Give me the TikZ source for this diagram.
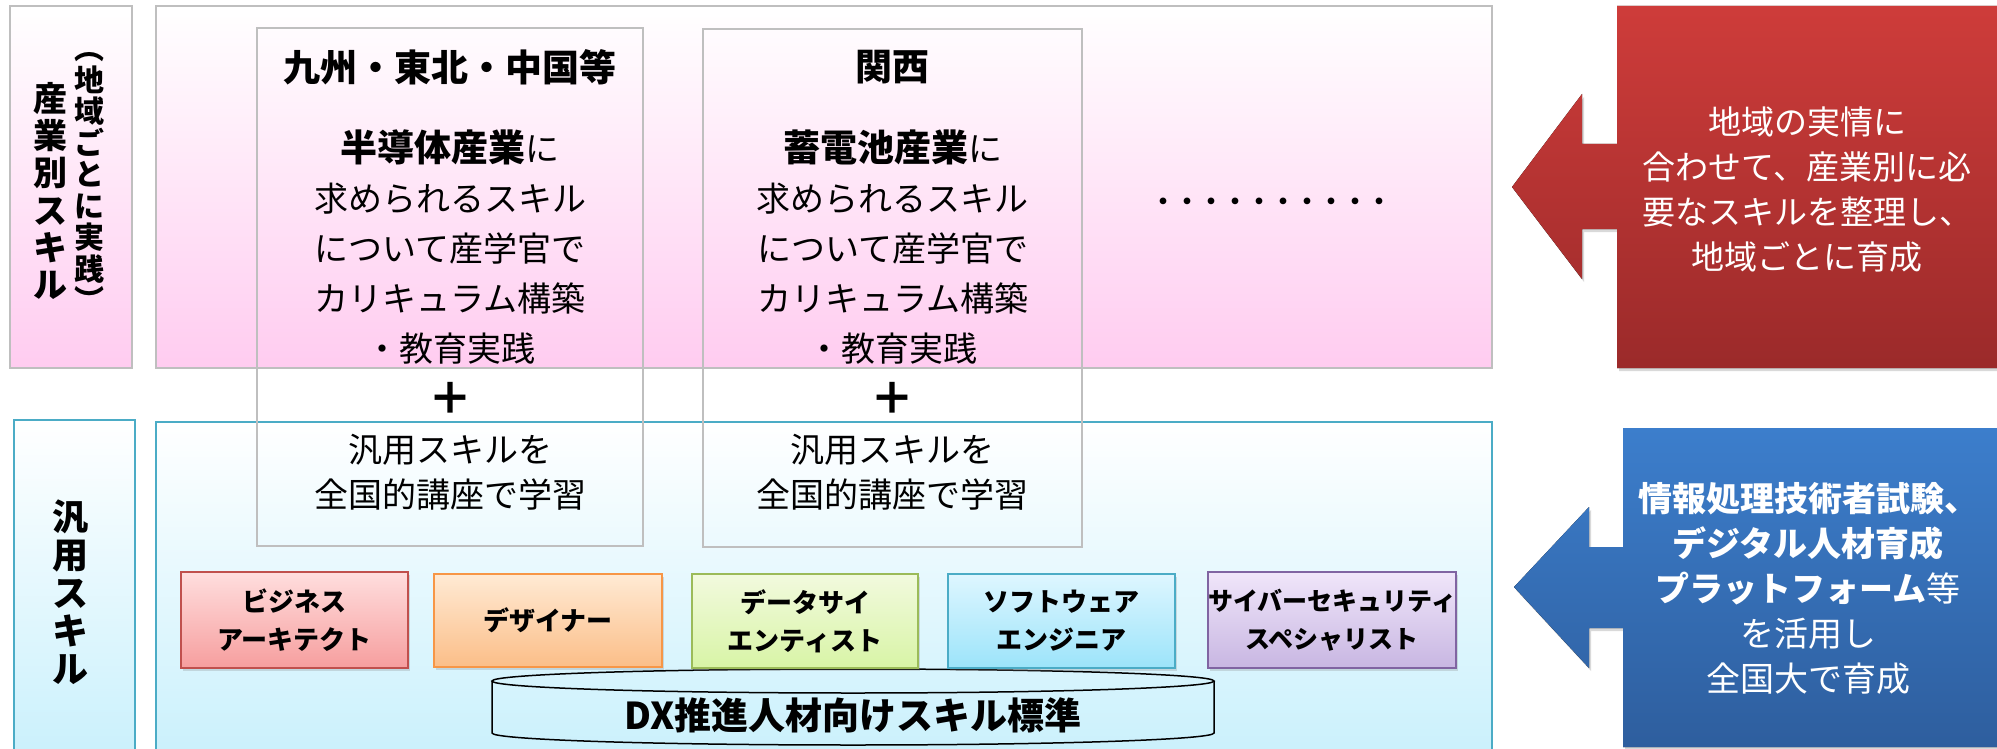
\documentclass[tikz,border=0pt]{standalone}
\usepackage{fontspec}
\setmainfont{Noto Sans CJK JP}
\usetikzlibrary{shadows}
\definecolor{pinkbot}{RGB}{255,204,240}
\definecolor{bluebot}{RGB}{200,240,252}
\definecolor{grayline}{RGB}{191,191,191}
\definecolor{tealline}{RGB}{75,172,198}
\definecolor{redtop}{RGB}{206,60,58}
\definecolor{redbot}{RGB}{155,42,42}
\definecolor{bluetop}{RGB}{60,126,204}
\definecolor{bluebtm}{RGB}{46,94,158}
\definecolor{s1top}{RGB}{255,222,222}
\definecolor{s1bot}{RGB}{246,158,158}
\definecolor{s1line}{RGB}{192,80,77}
\definecolor{s2top}{RGB}{255,234,212}
\definecolor{s2bot}{RGB}{251,190,136}
\definecolor{s2line}{RGB}{247,150,70}
\definecolor{s3top}{RGB}{242,250,222}
\definecolor{s3bot}{RGB}{216,244,166}
\definecolor{s3line}{RGB}{155,187,89}
\definecolor{s4top}{RGB}{222,246,255}
\definecolor{s4bot}{RGB}{156,228,250}
\definecolor{s4line}{RGB}{75,172,198}
\definecolor{s5top}{RGB}{240,230,250}
\definecolor{s5bot}{RGB}{200,182,226}
\definecolor{s5line}{RGB}{128,100,162}
\newcommand\fsz[2]{\fontsize{#1}{#2}\selectfont}
\tikzset{
  panelpink/.style={draw=grayline, line width=1.5pt, top color=white, bottom color=pinkbot},
  panelblue/.style={draw=tealline, line width=1.5pt, top color=white, bottom color=bluebot},
  regionbox/.style={draw=grayline, line width=1.5pt},
  txt/.style={inner sep=0pt, align=center},
  skillbox/.style={draw, line width=1.5pt, inner sep=0pt, align=center,
    font=\bfseries\fsz{26}{38},
    drop shadow={shadow xshift=1.5pt, shadow yshift=-3pt, opacity=0.25}},
  callshadow/.style={drop shadow={shadow xshift=2pt, shadow yshift=-3pt, opacity=0.3}},
}
\begin{document}
\begin{tikzpicture}[x=1pt,y=-1pt]
\useasboundingbox (0,0) rectangle (1997,749);
\clip (0,0) rectangle (1997,749);

% panels
\draw[panelpink] (10,6) rectangle (132,368);
\draw[panelpink] (156,6) rectangle (1492,368);
\draw[panelblue] (14,420) rectangle (135,770);
\draw[panelblue] (156,422) rectangle (1492,770);

% region boxes
\draw[regionbox] (257,28) rectangle (643,546);
\draw[regionbox] (703,29) rectangle (1082,547);

% left vertical labels
\node[txt, font=\bfseries\fsz{34}{37.2}] (lblA) at (50,191) {産\\業\\別\\ス\\キ\\ル};
\node[txt, font=\bfseries\fsz{30}{31.5}] (lblB) at (89,182) {︵\\地\\域\\ご\\と\\に\\実\\践\\︶};
\node[txt, font=\bfseries\fsz{36}{38}] (lblC) at (70,592) {汎\\用\\ス\\キ\\ル};

% region 1
\node[txt, font=\bfseries\fsz{37}{44}] (h1) at (450,67) {九州・東北・中国等};
\node[txt, font=\fsz{34}{50}] (t1) at (450,247)
  {{\bfseries\fsz{37}{50}半導体産業}に\\求められるスキル\\について産学官で\\カリキュラム構築\\・教育実践};
\node[txt, font=\bfseries\fsz{44}{44}] (p1) at (450,398) {＋};
\node[txt, font=\fsz{34}{45}] (g1) at (450,472) {汎用スキルを\\全国的講座で学習};

% region 2
\node[txt, font=\bfseries\fsz{37}{44}] (h2) at (892.5,67) {関西};
\node[txt, font=\fsz{34}{50}] (t2) at (892.5,247)
  {{\bfseries\fsz{37}{50}蓄電池産業}に\\求められるスキル\\について産学官で\\カリキュラム構築\\・教育実践};
\node[txt, font=\bfseries\fsz{44}{44}] (p2) at (892.5,398) {＋};
\node[txt, font=\fsz{34}{45}] (g2) at (892.5,472) {汎用スキルを\\全国的講座で学習};

% dots
\node[txt, font=\bfseries\fsz{24}{24}] (dots) at (1271,204) {・・・・・・・・・・};

% cylinder
\draw[line width=1.5pt] (492,681) -- (492,733)
  arc[start angle=180, end angle=0, x radius=361, y radius=12] -- (1214,681);
\draw[line width=1.5pt] (853,681) ellipse[x radius=361, y radius=12];
\node[txt, font=\bfseries\fsz{37}{40}] (dx) at (853,715) {DX推進人材向けスキル標準};

% skill boxes
\node[skillbox, draw=s1line, top color=s1top, bottom color=s1bot,
  minimum width=227pt, minimum height=96pt] (biz) at (294.5,620) {ビジネス\\アーキテクト};
\node[skillbox, draw=s2line, top color=s2top, bottom color=s2bot,
  minimum width=228pt, minimum height=93pt] (des) at (548,620.5) {デザイナー};
\node[skillbox, draw=s3line, top color=s3top, bottom color=s3bot,
  minimum width=226pt, minimum height=94pt] (dat) at (805,621) {データサイ\\エンティスト};
\node[skillbox, draw=s4line, top color=s4top, bottom color=s4bot,
  minimum width=227pt, minimum height=94pt] (sof) at (1061.5,621) {ソフトウェア\\エンジニア};
\node[skillbox, draw=s5line, top color=s5top, bottom color=s5bot,
  minimum width=246pt, minimum height=96pt, font=\bfseries\fsz{25}{38}] (cyb) at (1332,620) {サイバーセキュリティ\\スペシャリスト};

% red callout
\fill[callshadow, top color=redtop, bottom color=redbot]
  (1617,6) -- (2000,6) -- (2000,368) -- (1617,368) -- (1617,229) -- (1582,229)
  -- (1582,279) -- (1512,187) -- (1582,94) -- (1582,144) -- (1617,144) -- cycle;
\node[txt, text=white, font=\fsz{33}{45}] (red) at (1807,190)
  {地域の実情に\\合わせて、産業別に必\\要なスキルを整理し、\\地域ごとに育成};

% blue callout
\fill[callshadow, top color=bluetop, bottom color=bluebtm]
  (1623,428) -- (2000,428) -- (2000,747) -- (1623,747) -- (1623,628) -- (1589,628)
  -- (1589,668) -- (1514,587) -- (1589,507) -- (1589,547) -- (1623,547) -- cycle;
\node[txt, text=white, font=\fsz{34}{45}] (blue) at (1808,588)
  {\textbf{情報処理技術者試験、}\\\textbf{デジタル人材育成}\\\textbf{プラットフォーム}等\\を活用し\\全国大で育成};
\end{tikzpicture}
\end{document}
